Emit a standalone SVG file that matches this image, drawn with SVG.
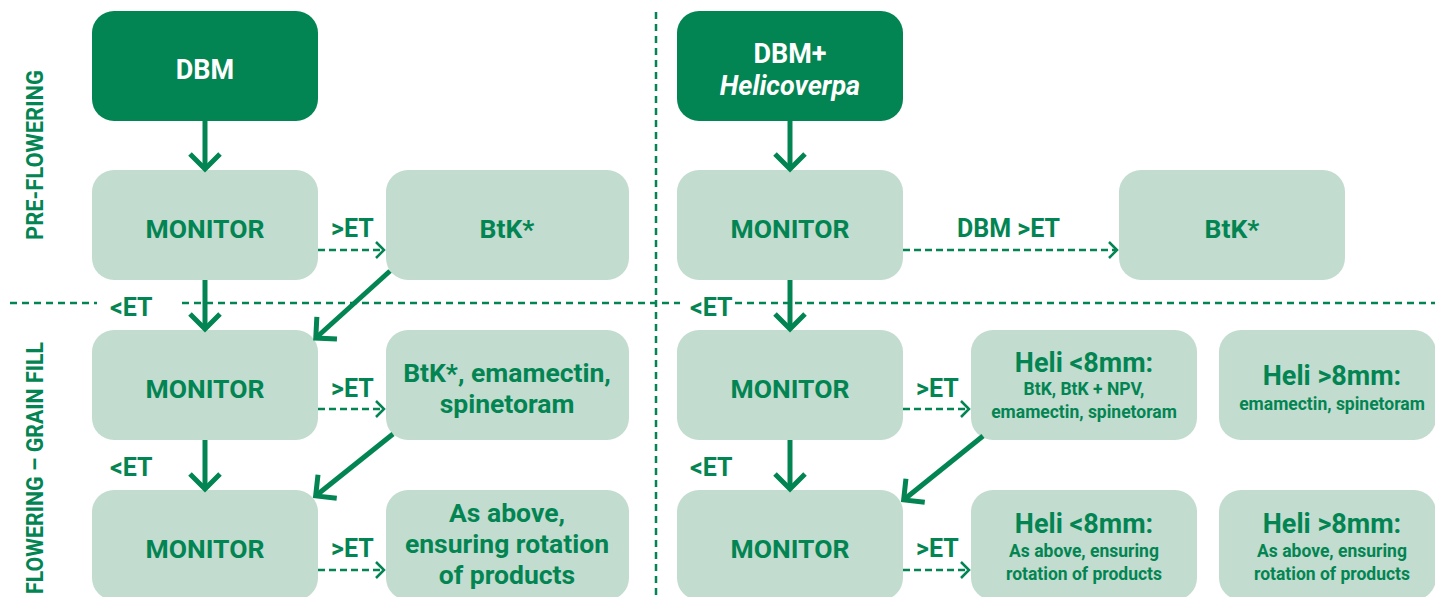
<svg xmlns="http://www.w3.org/2000/svg" width="1435" height="597" viewBox="0 0 1435 597">
  <style>
    .txt { font-family: Roboto, "Liberation Sans", sans-serif; font-weight: bold; fill: #028552; }
    .dark { fill: #028552; }
    .light { fill: #c2dccf; }
    .white { fill: #ffffff; }
    .mid { text-anchor: middle; }
    .big { font-size: 26.5px; }
    .head { font-size: 27px; }
    .small { font-size: 17.5px; }
    .lbl { font-size: 25px; }
    .side { font-size: 23px; }
    .divider { stroke: #028552; stroke-width: 2.5; stroke-dasharray: 7 5; fill: none; }
    .solid { stroke: #028552; stroke-width: 5; fill: none; marker-end: url(#head-thick); }
    .dashed { stroke: #028552; stroke-width: 2.5; stroke-dasharray: 7 4; fill: none; marker-end: url(#head-thin); }
  </style>
  <defs>
    <marker id="head-thick" markerUnits="userSpaceOnUse" viewBox="-20 -20 30 40" markerWidth="30" markerHeight="40" refX="0" refY="0" orient="auto">
      <path d="M-12,-15 L3,0 L-12,15" fill="none" stroke="#028552" stroke-width="5"/>
    </marker>
    <marker id="head-thin" markerUnits="userSpaceOnUse" viewBox="-14 -14 20 28" markerWidth="20" markerHeight="28" refX="0" refY="0" orient="auto">
      <path d="M-8,-8 L0,0 L-8,8" fill="none" stroke="#028552" stroke-width="2.5"/>
    </marker>
  </defs>

  <!-- stage dividers -->
  <g id="dividers">
    <line class="divider" x1="656" y1="12" x2="656" y2="597"/>
    <line class="divider" x1="10" y1="303" x2="97" y2="303"/>
    <line class="divider" x1="182" y1="303" x2="680" y2="303"/>
    <line class="divider" x1="735" y1="303" x2="1435" y2="303"/>
  </g>

  <!-- stage labels -->
  <g id="stage-labels">
    <text class="txt side mid" transform="translate(43,155) rotate(-90)" textLength="170" lengthAdjust="spacingAndGlyphs">PRE-FLOWERING</text>
    <text class="txt side" text-anchor="end" transform="translate(43,342) rotate(-90)" textLength="252" lengthAdjust="spacingAndGlyphs">FLOWERING – GRAIN FILL</text>
  </g>

  <!-- DBM column -->
  <g id="dbm">
    <rect class="dark" x="92" y="11" width="226" height="110" rx="22"/>
    <text class="txt white head mid" x="205" y="79">DBM</text>
  </g>
  <g id="dbm-monitor-1">
    <rect class="light" x="92" y="170" width="226" height="110" rx="22"/>
    <text class="txt big mid" x="205" y="238">MONITOR</text>
  </g>
  <g id="dbm-btk">
    <rect class="light" x="386" y="170" width="243" height="110" rx="22"/>
    <text class="txt big mid" x="507" y="238">BtK*</text>
  </g>
  <g id="dbm-monitor-2">
    <rect class="light" x="92" y="330" width="226" height="110" rx="22"/>
    <text class="txt big mid" x="205" y="398">MONITOR</text>
  </g>
  <g id="dbm-spray-2">
    <rect class="light" x="386" y="330" width="243" height="110" rx="22"/>
    <text class="txt big mid" x="507" y="382">BtK*, emamectin,</text>
    <text class="txt big mid" x="507" y="413">spinetoram</text>
  </g>
  <g id="dbm-monitor-3">
    <rect class="light" x="92" y="490" width="226" height="110" rx="22"/>
    <text class="txt big mid" x="205" y="558">MONITOR</text>
  </g>
  <g id="dbm-spray-3">
    <rect class="light" x="386" y="490" width="243" height="110" rx="22"/>
    <text class="txt big mid" x="507" y="522">As above,</text>
    <text class="txt big mid" x="507" y="553">ensuring rotation</text>
    <text class="txt big mid" x="507" y="584">of products</text>
  </g>

  <!-- DBM + Helicoverpa column -->
  <g id="dbm-heli">
    <rect class="dark" x="677" y="11" width="226" height="110" rx="22"/>
    <text class="txt white head mid" x="790" y="63">DBM+</text>
    <text class="txt white head mid" x="790" y="95" font-style="italic" font-weight="500">Helicoverpa</text>
  </g>
  <g id="heli-monitor-1">
    <rect class="light" x="677" y="170" width="226" height="110" rx="22"/>
    <text class="txt big mid" x="790" y="238">MONITOR</text>
  </g>
  <g id="heli-btk">
    <rect class="light" x="1119" y="170" width="226" height="110" rx="22"/>
    <text class="txt big mid" x="1232" y="238">BtK*</text>
  </g>
  <g id="heli-monitor-2">
    <rect class="light" x="677" y="330" width="226" height="110" rx="22"/>
    <text class="txt big mid" x="790" y="398">MONITOR</text>
  </g>
  <g id="heli-small-2">
    <rect class="light" x="971" y="330" width="226" height="110" rx="22"/>
    <text class="txt head mid" x="1084" y="372">Heli &lt;8mm:</text>
    <text class="txt small mid" x="1084" y="395">BtK, BtK + NPV,</text>
    <text class="txt small mid" x="1084" y="418">emamectin, spinetoram</text>
  </g>
  <g id="heli-large-2">
    <rect class="light" x="1219" y="330" width="217" height="110" rx="22"/>
    <text class="txt head mid" x="1332" y="385">Heli &gt;8mm:</text>
    <text class="txt small mid" x="1332" y="410">emamectin, spinetoram</text>
  </g>
  <g id="heli-monitor-3">
    <rect class="light" x="677" y="490" width="226" height="110" rx="22"/>
    <text class="txt big mid" x="790" y="558">MONITOR</text>
  </g>
  <g id="heli-small-3">
    <rect class="light" x="971" y="490" width="226" height="110" rx="22"/>
    <text class="txt head mid" x="1084" y="533">Heli &lt;8mm:</text>
    <text class="txt small mid" x="1084" y="557">As above, ensuring</text>
    <text class="txt small mid" x="1084" y="580">rotation of products</text>
  </g>
  <g id="heli-large-3">
    <rect class="light" x="1219" y="490" width="217" height="110" rx="22"/>
    <text class="txt head mid" x="1332" y="533">Heli &gt;8mm:</text>
    <text class="txt small mid" x="1332" y="557">As above, ensuring</text>
    <text class="txt small mid" x="1332" y="580">rotation of products</text>
  </g>

  <!-- connectors -->
  <g id="connectors">
    <line class="solid" x1="205" y1="121" x2="205" y2="166"/>
    <line class="solid" x1="205" y1="280" x2="205" y2="326"/>
    <line class="solid" x1="205" y1="440" x2="205" y2="486"/>
    <line class="solid" x1="390" y1="271" x2="318" y2="336"/>
    <line class="solid" x1="393" y1="434" x2="318" y2="494"/>

    <line class="dashed" x1="318" y1="250" x2="384" y2="250"/>
    <line class="dashed" x1="318" y1="409" x2="384" y2="409"/>
    <line class="dashed" x1="318" y1="570" x2="384" y2="570"/>

    <line class="solid" x1="790" y1="121" x2="790" y2="166"/>
    <line class="solid" x1="790" y1="280" x2="790" y2="326"/>
    <line class="solid" x1="790" y1="440" x2="790" y2="486"/>
    <line class="solid" x1="983" y1="436" x2="906" y2="498"/>

    <line class="dashed" x1="903" y1="250" x2="1117" y2="250"/>
    <line class="dashed" x1="903" y1="409" x2="969" y2="409"/>
    <line class="dashed" x1="903" y1="570" x2="969" y2="570"/>
  </g>

  <!-- threshold labels -->
  <g id="connector-labels">
    <text class="txt lbl" x="331" y="237">&gt;ET</text>
    <text class="txt lbl" x="331" y="397">&gt;ET</text>
    <text class="txt lbl" x="331" y="557">&gt;ET</text>
    <text class="txt lbl" x="110" y="316">&lt;ET</text>
    <text class="txt lbl" x="110" y="476">&lt;ET</text>
    <text class="txt lbl" x="957" y="237">DBM &gt;ET</text>
    <text class="txt lbl" x="916" y="397">&gt;ET</text>
    <text class="txt lbl" x="916" y="557">&gt;ET</text>
    <text class="txt lbl" x="690" y="316">&lt;ET</text>
    <text class="txt lbl" x="690" y="476">&lt;ET</text>
  </g>
</svg>
